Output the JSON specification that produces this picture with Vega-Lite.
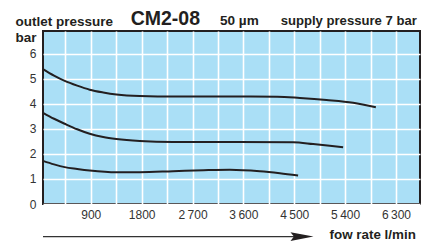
{
  "$schema": "https://vega.github.io/schema/vega-lite/v6.json",
  "width": 377,
  "height": 173,
  "autosize": {"type": "none"},
  "padding": {"left": 43, "top": 31, "right": 15, "bottom": 37},
  "background": "white",
  "config": {
    "view": {"fill": "#aadff6", "stroke": "#231f20", "strokeWidth": 2},
    "font": "Liberation Sans",
    "axisX": {
      "labelOverlap": false,
      "grid": true, "gridColor": "white", "gridWidth": 1.6, "gridOpacity": 1,
      "ticks": false, "domain": false,
      "labelFont": "Liberation Sans", "labelFontSize": 12, "labelColor": "#333333", "labelPadding": 5,
      "titleFont": "Liberation Sans", "titleFontSize": 13.4, "titleFontWeight": "bold", "titleColor": "#231f20",
      "titleAlign": "left", "titleAnchor": "start", "titleBaseline": "alphabetic",
      "titleX": 286, "titleY": 34.5
    },
    "axisY": {
      "labelOverlap": false,
      "grid": true, "gridColor": "white", "gridWidth": 1.6, "gridOpacity": 1,
      "ticks": false, "domain": false,
      "labelFont": "Liberation Sans", "labelFontSize": 12, "labelColor": "#333333", "labelPadding": 7,
      "titleFont": "Liberation Sans", "titleFontSize": 13.5, "titleFontWeight": "bold", "titleColor": "#231f20",
      "titleAngle": 0, "titleAlign": "left", "titleBaseline": "alphabetic", "titleLineHeight": 16.7,
      "titleX": -28, "titleY": -6
    }
  },
  "layer": [
    {
      "data": {
        "values": [
          {"series": "A", "flow": 55, "pressure": 5.38},
          {"series": "A", "flow": 250, "pressure": 5.12},
          {"series": "A", "flow": 439, "pressure": 4.91},
          {"series": "A", "flow": 660, "pressure": 4.72},
          {"series": "A", "flow": 881, "pressure": 4.56},
          {"series": "A", "flow": 1120, "pressure": 4.45},
          {"series": "A", "flow": 1354, "pressure": 4.37},
          {"series": "A", "flow": 1766, "pressure": 4.31},
          {"series": "A", "flow": 2400, "pressure": 4.29},
          {"series": "A", "flow": 3500, "pressure": 4.29},
          {"series": "A", "flow": 4200, "pressure": 4.28},
          {"series": "A", "flow": 4600, "pressure": 4.23},
          {"series": "A", "flow": 5071, "pressure": 4.15},
          {"series": "A", "flow": 5542, "pressure": 4.04},
          {"series": "A", "flow": 5944, "pressure": 3.86},
          {"series": "B", "flow": 55, "pressure": 3.64},
          {"series": "B", "flow": 250, "pressure": 3.4},
          {"series": "B", "flow": 439, "pressure": 3.2},
          {"series": "B", "flow": 660, "pressure": 2.98},
          {"series": "B", "flow": 881, "pressure": 2.8},
          {"series": "B", "flow": 1120, "pressure": 2.67},
          {"series": "B", "flow": 1354, "pressure": 2.59},
          {"series": "B", "flow": 1766, "pressure": 2.51},
          {"series": "B", "flow": 2356, "pressure": 2.47},
          {"series": "B", "flow": 3500, "pressure": 2.47},
          {"series": "B", "flow": 4480, "pressure": 2.46},
          {"series": "B", "flow": 4834, "pressure": 2.39},
          {"series": "B", "flow": 5129, "pressure": 2.32},
          {"series": "B", "flow": 5365, "pressure": 2.26},
          {"series": "C", "flow": 55, "pressure": 1.72},
          {"series": "C", "flow": 250, "pressure": 1.58},
          {"series": "C", "flow": 439, "pressure": 1.47},
          {"series": "C", "flow": 660, "pressure": 1.4},
          {"series": "C", "flow": 881, "pressure": 1.34},
          {"series": "C", "flow": 1354, "pressure": 1.27},
          {"series": "C", "flow": 1766, "pressure": 1.27},
          {"series": "C", "flow": 2356, "pressure": 1.31},
          {"series": "C", "flow": 2900, "pressure": 1.35},
          {"series": "C", "flow": 3359, "pressure": 1.37},
          {"series": "C", "flow": 3890, "pressure": 1.31},
          {"series": "C", "flow": 4245, "pressure": 1.23},
          {"series": "C", "flow": 4568, "pressure": 1.14}
        ]
      },
      "mark": {"type": "line", "color": "#231f20", "strokeWidth": 2, "interpolate": "monotone"},
      "encoding": {
        "x": {
          "field": "flow",
          "type": "quantitative",
          "scale": {"domain": [55, 6725], "nice": false, "zero": false},
          "axis": {
            "values": [450, 900, 1350, 1800, 2250, 2700, 3150, 3600, 4050, 4500, 4950, 5400, 5850, 6300],
            "labelExpr": "datum.value % 900 != 0 ? '' : (datum.value < 2000 ? format(datum.value, 'd') : replace(format(datum.value, ','), ',', '\u2009'))",
            "title": "fow rate l/min"
          }
        },
        "y": {
          "field": "pressure",
          "type": "quantitative",
          "scale": {"domain": [0, 6.9], "nice": false},
          "axis": {
            "values": [0, 1, 2, 3, 4, 5, 6],
            "title": ["outlet pressure", "bar"]
          }
        },
        "detail": {"field": "series"}
      }
    },
    {
      "data": {"values": [{}]},
      "mark": {"type": "text", "text": "CM2-08", "font": "Liberation Sans", "fontSize": 19.5, "fontWeight": "bold", "color": "#231f20", "align": "left", "baseline": "alphabetic"},
      "encoding": {
        "x": {"datum": 1606, "axis": {"values": [450, 900, 1350, 1800, 2250, 2700, 3150, 3600, 4050, 4500, 4950, 5400, 5850, 6300], "labelExpr": "datum.value % 900 != 0 ? '' : (datum.value < 2000 ? format(datum.value, 'd') : replace(format(datum.value, ','), ',', '\u2009'))", "title": "fow rate l/min"}},
        "y": {"datum": 7.14, "axis": {"values": [0, 1, 2, 3, 4, 5, 6], "title": ["outlet pressure", "bar"]}}
      }
    },
    {
      "data": {"values": [{}]},
      "mark": {"type": "text", "text": "50 µm", "font": "Liberation Sans", "fontSize": 13.6, "fontWeight": "bold", "color": "#231f20", "align": "left", "baseline": "alphabetic"},
      "encoding": {
        "x": {"datum": 3186, "axis": {"values": [450, 900, 1350, 1800, 2250, 2700, 3150, 3600, 4050, 4500, 4950, 5400, 5850, 6300], "labelExpr": "datum.value % 900 != 0 ? '' : (datum.value < 2000 ? format(datum.value, 'd') : replace(format(datum.value, ','), ',', '\u2009'))", "title": "fow rate l/min"}},
        "y": {"datum": 7.14, "axis": {"values": [0, 1, 2, 3, 4, 5, 6], "title": ["outlet pressure", "bar"]}}
      }
    },
    {
      "data": {"values": [{}]},
      "mark": {"type": "text", "text": "supply pressure 7 bar", "font": "Liberation Sans", "fontSize": 13.1, "fontWeight": "bold", "color": "#231f20", "align": "left", "baseline": "alphabetic"},
      "encoding": {
        "x": {"datum": 4260, "axis": {"values": [450, 900, 1350, 1800, 2250, 2700, 3150, 3600, 4050, 4500, 4950, 5400, 5850, 6300], "labelExpr": "datum.value % 900 != 0 ? '' : (datum.value < 2000 ? format(datum.value, 'd') : replace(format(datum.value, ','), ',', '\u2009'))", "title": "fow rate l/min"}},
        "y": {"datum": 7.14, "axis": {"values": [0, 1, 2, 3, 4, 5, 6], "title": ["outlet pressure", "bar"]}}
      }
    },
    {
      "data": {"values": [{}]},
      "mark": {"type": "rule", "color": "#333333", "strokeWidth": 1.2},
      "encoding": {
        "x": {"datum": 55, "axis": {"values": [450, 900, 1350, 1800, 2250, 2700, 3150, 3600, 4050, 4500, 4950, 5400, 5850, 6300], "labelExpr": "datum.value % 900 != 0 ? '' : (datum.value < 2000 ? format(datum.value, 'd') : replace(format(datum.value, ','), ',', '\u2009'))", "title": "fow rate l/min"}},
        "x2": {"datum": 4560},
        "y": {"datum": -1.3, "axis": {"values": [0, 1, 2, 3, 4, 5, 6], "title": ["outlet pressure", "bar"]}}
      }
    },
    {
      "data": {"values": [{}]},
      "mark": {"type": "point", "shape": "M-1,-0.38L1,0L-1,0.38L-0.7,0Z", "size": 529, "filled": true, "color": "#231f20", "opacity": 1},
      "encoding": {
        "x": {"datum": 4637, "axis": {"values": [450, 900, 1350, 1800, 2250, 2700, 3150, 3600, 4050, 4500, 4950, 5400, 5850, 6300], "labelExpr": "datum.value % 900 != 0 ? '' : (datum.value < 2000 ? format(datum.value, 'd') : replace(format(datum.value, ','), ',', '\u2009'))", "title": "fow rate l/min"}},
        "y": {"datum": -1.3, "axis": {"values": [0, 1, 2, 3, 4, 5, 6], "title": ["outlet pressure", "bar"]}}
      }
    }
  ]
}
